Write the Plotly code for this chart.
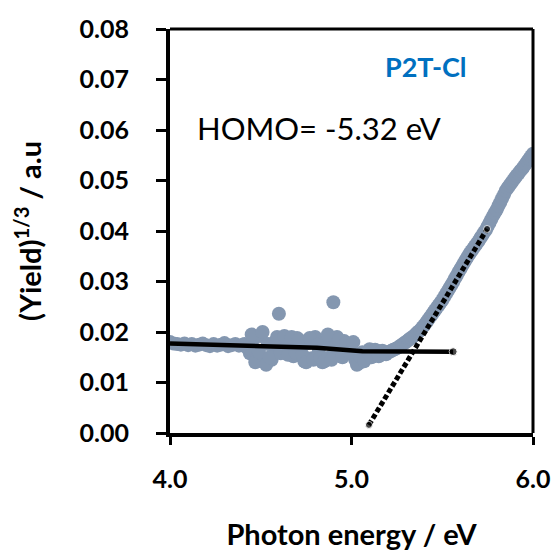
import plotly.graph_objects as go

# baseline region, 0.02 eV steps
energy = [4.00, 4.02, 4.04, 4.06, 4.08, 4.10, 4.12, 4.14, 4.16, 4.18,
          4.20, 4.22, 4.24, 4.26, 4.28, 4.30, 4.32, 4.34, 4.36, 4.38,
          4.40, 4.42, 4.44, 4.46, 4.48, 4.50, 4.52, 4.54, 4.56, 4.58,
          4.60, 4.62, 4.64, 4.66, 4.68, 4.70, 4.72, 4.74, 4.76, 4.78,
          4.80, 4.82, 4.84, 4.86, 4.88, 4.90, 4.92, 4.94, 4.96, 4.98,
          5.00, 5.02, 5.04, 5.06, 5.08, 5.10, 5.12, 5.14, 5.16, 5.18,
          5.20]
yield_cbrt = [0.0180, 0.0177, 0.0176, 0.0175, 0.0177, 0.0174, 0.0176, 0.0173, 0.0175, 0.0177,
              0.0174, 0.0172, 0.0176, 0.0173, 0.0175, 0.0178, 0.0172, 0.0174, 0.0176, 0.0173,
              0.0175, 0.0170, 0.0158, 0.0186, 0.0150, 0.0192, 0.0140, 0.0176, 0.0145, 0.0168,
              0.0236, 0.0183, 0.0160, 0.0185, 0.0152, 0.0188, 0.0170, 0.0142, 0.0178, 0.0148,
              0.0190, 0.0160, 0.0140, 0.0182, 0.0150, 0.0259, 0.0190, 0.0165, 0.0182, 0.0170,
              0.0176, 0.0145, 0.0138, 0.0160, 0.0152, 0.0166, 0.0158, 0.0163, 0.0155, 0.0160,
              0.0160]

# extra noisy readings in the baseline (odd hundredths)
energy_noise = [4.41, 4.43, 4.45, 4.47, 4.49, 4.51, 4.53, 4.55, 4.57, 4.59,
                4.61, 4.63, 4.65, 4.67, 4.69, 4.71, 4.73, 4.75, 4.77, 4.79,
                4.81, 4.83, 4.85, 4.87, 4.89, 4.91, 4.93, 4.95, 4.97, 4.99,
                5.01, 5.03, 5.05, 5.07, 5.09, 5.11, 5.13, 5.15, 5.17, 5.19]
yield_noise = [0.0176, 0.0168, 0.0195, 0.0140, 0.0160, 0.0200, 0.0135, 0.0150, 0.0178, 0.0190,
               0.0158, 0.0192, 0.0155, 0.0190, 0.0160, 0.0185, 0.0155, 0.0140, 0.0188, 0.0145,
               0.0175, 0.0150, 0.0142, 0.0195, 0.0145, 0.0170, 0.0185, 0.0150, 0.0178, 0.0160,
               0.0180, 0.0135, 0.0150, 0.0142, 0.0160, 0.0150, 0.0165, 0.0152, 0.0163, 0.0156]

# rising region, 0.01 eV steps
energy_rise = [5.21, 5.22, 5.23, 5.24, 5.25, 5.26, 5.27, 5.28, 5.29, 5.30,
               5.31, 5.32, 5.33, 5.34, 5.35, 5.36, 5.37, 5.38, 5.39, 5.40,
               5.41, 5.42, 5.43, 5.44, 5.45, 5.46, 5.47, 5.48, 5.49, 5.50,
               5.51, 5.52, 5.53, 5.54, 5.55, 5.56, 5.57, 5.58, 5.59, 5.60,
               5.61, 5.62, 5.63, 5.64, 5.65, 5.66, 5.67, 5.68, 5.69, 5.70,
               5.71, 5.72, 5.73, 5.74, 5.75, 5.76, 5.77, 5.78, 5.79, 5.80,
               5.81, 5.82, 5.83, 5.84, 5.85, 5.86, 5.87, 5.88, 5.89, 5.90,
               5.91, 5.92, 5.93, 5.94, 5.95, 5.96, 5.97, 5.98, 5.99, 6.00]
yield_rise = [0.0161, 0.0163, 0.0165, 0.0166, 0.0168, 0.0170, 0.0173, 0.0175, 0.0178, 0.0180,
              0.0183, 0.0186, 0.0188, 0.0191, 0.0194, 0.0198, 0.0201, 0.0204, 0.0209, 0.0213,
              0.0218, 0.0223, 0.0228, 0.0233, 0.0238, 0.0243, 0.0248, 0.0253, 0.0258, 0.0263,
              0.0269, 0.0275, 0.0281, 0.0287, 0.0293, 0.0299, 0.0306, 0.0312, 0.0319, 0.0325,
              0.0331, 0.0337, 0.0343, 0.0349, 0.0355, 0.0360, 0.0365, 0.0370, 0.0375, 0.0380,
              0.0386, 0.0391, 0.0397, 0.0402, 0.0409, 0.0416, 0.0423, 0.0430, 0.0436, 0.0442,
              0.0450, 0.0457, 0.0465, 0.0472, 0.0480, 0.0485, 0.0490, 0.0495, 0.0500, 0.0505,
              0.0510, 0.0514, 0.0519, 0.0523, 0.0528, 0.0533, 0.0538, 0.0543, 0.0548, 0.0553]

base_x = [4.00, 4.26, 4.52, 4.81, 5.06, 5.56]
base_y = [0.0177, 0.0175, 0.0172, 0.0169, 0.0162, 0.0161]

tangent_x = [5.096, 5.747]
tangent_y = [0.0016, 0.0404]

x_ticks = [4.0, 5.0, 6.0]
y_ticks = [0.00, 0.01, 0.02, 0.03, 0.04, 0.05, 0.06, 0.07, 0.08]

FONT = "Lato, 'Open Sans', sans-serif"
DOT = "#8497B0"

fig = go.Figure()
for xs, ys in [(energy, yield_cbrt), (energy_noise, yield_noise), (energy_rise, yield_rise)]:
    fig.add_trace(go.Scatter(x=xs, y=ys, mode="markers",
                             marker=dict(size=14, color=DOT),
                             hoverinfo="skip", showlegend=False))
fig.add_trace(go.Scatter(x=base_x, y=base_y, mode="lines+markers",
                         line=dict(color="black", width=4.5),
                         marker=dict(size=[0, 0, 0, 0, 0, 8], color="black"),
                         showlegend=False))
fig.add_trace(go.Scatter(x=tangent_x, y=tangent_y, mode="lines+markers",
                         line=dict(color="black", width=5, dash="5px,2.5px"),
                         marker=dict(size=[7, 7], color="black"),
                         showlegend=False))

fig.update_layout(
    width=555, height=551,
    margin=dict(l=170, r=22, t=29, b=118),
    paper_bgcolor="white", plot_bgcolor="white",
    font=dict(family=FONT, color="black"),
    xaxis=dict(range=[4, 6], tickvals=x_ticks, tickformat=".1f",
               automargin=False,
               showgrid=False, zeroline=False,
               showline=True, linecolor="black", linewidth=4,
               ticks="outside", ticklen=8, tickwidth=3, tickcolor="black",
               tickfont=dict(family=FONT, size=25, color="black", weight="bold"),
               ticklabelstandoff=13,
               title=dict(text="<b>Photon energy / eV</b>",
                          font=dict(family=FONT, size=29, color="black"),
                          standoff=38)),
    yaxis=dict(range=[0, 0.08], tickvals=y_ticks, tickformat=".2f",
               automargin=False,
               showgrid=False, zeroline=False,
               showline=True, linecolor="black", linewidth=4,
               ticks="outside", ticklen=10, tickwidth=3, tickcolor="black",
               tickfont=dict(family=FONT, size=25, color="black", weight="bold"),
               ticklabelstandoff=22,
               title=dict(text="<b>(Yield)<sup>1/3</sup> / a.u</b>",
                          font=dict(family=FONT, size=29, color="black"),
                          standoff=30)),
    shapes=[
        dict(type="line", xref="paper", yref="paper", x0=0, x1=1, y0=1, y1=1,
             line=dict(color="black", width=3)),
        dict(type="line", xref="paper", yref="paper", x0=1, x1=1, y0=0, y1=1,
             line=dict(color="black", width=3)),
    ],
    annotations=[
        dict(text="<b>P2T-Cl</b>", x=5.41, y=0.0725, xref="x", yref="y",
             showarrow=False, font=dict(family=FONT, size=27, color="#0070C0")),
        dict(text="HOMO= -5.32 eV", x=4.14, y=0.0603, xref="x", yref="y",
             xanchor="left", showarrow=False,
             font=dict(family=FONT, size=31, color="black")),
    ],
)

fig.write_html("out.html")
